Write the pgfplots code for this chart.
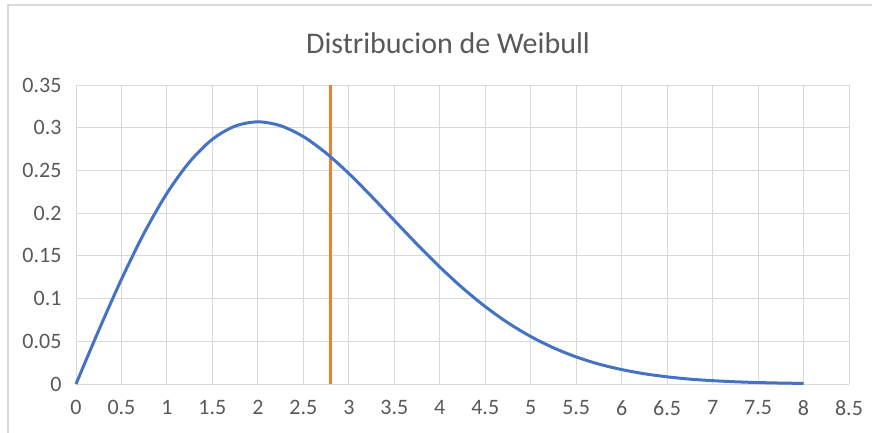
\documentclass[border=0pt]{standalone}
\usepackage{pgfplots}
\pgfplotsset{compat=1.18}
\usepackage{fontspec}
\setmainfont{Carlito}
\definecolor{exblue}{HTML}{4472C4}
\definecolor{exorange}{HTML}{ED7D31}
\definecolor{exgrid}{HTML}{D9D9D9}
\definecolor{extext}{HTML}{595959}
\begin{document}
\begin{tikzpicture}
\useasboundingbox (0,0) rectangle (872pt,432pt);
\draw[exgrid, line width=1.2pt] (8pt,-10pt) rectangle (882pt,427pt);
\node[text=extext, font=\fontsize{30}{34}\selectfont] at (448pt,389pt) {Distribucion de Weibull};
\begin{axis}[
  at={(76pt,48pt)}, anchor=south west,
  scale only axis, width=773pt, height=299pt,
  xmin=0, xmax=8.5, ymin=0, ymax=0.35,
  xtick={0,0.5,...,8.5}, ytick={0,0.05,...,0.35},
  xticklabels={0,0.5,1,1.5,2,2.5,3,3.5,4,4.5,5,5.5,6,6.5,7,7.5,8,8.5},
  yticklabels={0,0.05,0.1,0.15,0.2,0.25,0.3,0.35},
  grid=major,
  major grid style={exgrid, line width=1pt},
  axis line style={draw=none},
  major tick length=0pt,
  tick label style={text=extext, font=\fontsize{22}{26}\selectfont},
  xticklabel style={yshift=-13pt},
  yticklabel style={xshift=-11pt},
  /pgf/number format/assume math mode=true,
  clip=false,
]
\addplot[exorange, line width=3pt] coordinates {(2.8,0) (2.8,0.35)};
\addplot[exblue, line width=3pt, smooth] coordinates {
(0,0) (0.25,0.0628) (0.5,0.1226) (0.75,0.1769) (1.0,0.2233) (1.25,0.2601)
(1.5,0.2865) (1.75,0.3019) (2.0,0.3069) (2.25,0.3023) (2.5,0.2896) (2.75,0.2703)
(3.0,0.2464) (3.25,0.2196) (3.5,0.1915) (3.75,0.1636) (4.0,0.1370) (4.25,0.1125)
(4.5,0.0906) (4.75,0.0716) (5.0,0.0556) (5.25,0.0424) (5.5,0.0317) (5.75,0.0233)
(6.0,0.0169) (6.25,0.0120) (6.5,0.0084) (6.75,0.0057) (7.0,0.0039) (7.25,0.0026)
(7.5,0.0017) (7.75,0.0011) (8.0,0.0007)
};
\end{axis}
\end{tikzpicture}
\end{document}
